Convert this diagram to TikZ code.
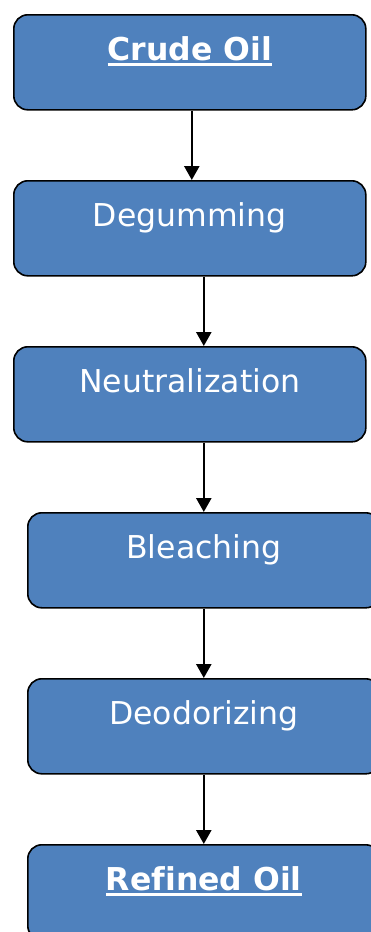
\documentclass[tikz,border=0pt]{standalone}
\usepackage{fontspec}
\setmainfont{DejaVu Sans}[Ligatures=NoCommon]
\newcommand{\myul}[1]{\leavevmode\setbox0=\hbox{#1}\rlap{\vrule width\wd0 height -2pt depth 5pt}\box0}
\usetikzlibrary{arrows.meta}
\definecolor{boxblue}{HTML}{4F81BD}
\begin{document}
\begin{tikzpicture}[x=1pt,y=-1pt,
  stepbox/.style={draw=black, line width=1.6pt, fill=boxblue, rounded corners=14pt,
    minimum width=352pt, inner xsep=0pt, inner ysep=0pt,
    text height=46pt, text depth=49pt, text=white,
    font=\fontsize{31.5}{37}\selectfont, anchor=north west},
  flow/.style={-{Triangle[width=15pt,length=14pt]}, line width=2.5pt, draw=black}]
\useasboundingbox (0,0) rectangle (370,932);
\node[stepbox] (crude)   at (13,14)  {\myul{\bfseries Crude Oil}};
\node[stepbox] (degum)   at (13,180) {Degumming};
\node[stepbox] (neutral) at (13,346) {Neutralization};
\node[stepbox] (bleach)  at (27,512) {Bleaching};
\node[stepbox] (deodor)  at (27,678) {Deodorizing};
\node[stepbox] (refined) at (27,844) {\myul{\bfseries Refined Oil}};
\draw[flow] ([xshift=2pt]crude.south) -- ([xshift=2pt]degum.north);
\draw[flow] ([xshift=14pt]degum.south) -- ([xshift=14pt]neutral.north);
\draw[flow] ([xshift=14pt]neutral.south) -- (bleach.north);
\draw[flow] (bleach.south) -- (deodor.north);
\draw[flow] (deodor.south) -- (refined.north);
\end{tikzpicture}
\end{document}
